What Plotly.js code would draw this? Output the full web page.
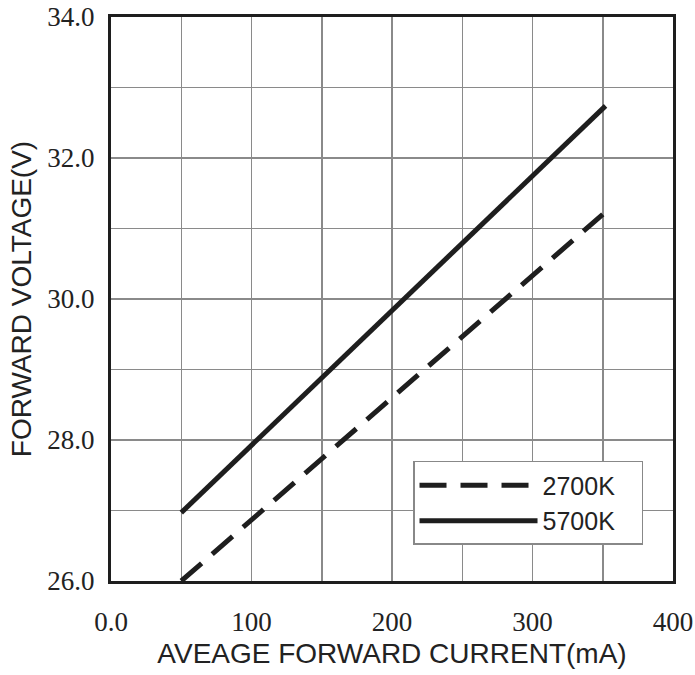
<!DOCTYPE html>
<html><head><meta charset="utf-8">
<script src="https://cdn.plot.ly/plotly-3.0.1.min.js"></script>
<style>html,body{margin:0;padding:0;background:#fff;}#chart{width:695px;height:675px;}</style>
</head><body><div id="chart"></div>
<script>
const seriesNames = ["2700K", "5700K"];
const current2700 = [50, 350];
const voltage2700 = [26.0, 31.2];
const current5700 = [50, 352];
const voltage5700 = [26.97, 32.74];
const xTickVals = [0, 50, 100, 150, 200, 250, 300, 350, 400];
const xTickText = ["0.0", "", "100", "", "200", "", "300", "", "400"];
const yTickVals = [26, 27, 28, 29, 30, 31, 32, 33, 34];
const yTickText = ["26.0", "", "28.0", "", "30.0", "", "32.0", "", "34.0"];

const lineColor = "#1e1e1e";
const serif = "'Liberation Serif', 'Times New Roman', serif";
const sans = "'Liberation Sans', Arial, sans-serif";
const pad = "\u00a0\u00a0\u00a0";
const traces = [
  {x: current2700, y: voltage2700, name: seriesNames[0] + pad, mode: "lines",
   line: {color: lineColor, width: 5, dash: "27px,14px"}},
  {x: current5700, y: voltage5700, name: seriesNames[1] + pad, mode: "lines",
   line: {color: lineColor, width: 5}}
];
const layout = {
  width: 695, height: 675,
  margin: {l: 111, r: 22, t: 17, b: 94},
  paper_bgcolor: "#fff", plot_bgcolor: "#fff",
  showlegend: true,
  legend: {x: 0.5374, y: 0.2128, xanchor: "left", yanchor: "top",
    bgcolor: "#fff", bordercolor: "#888", borderwidth: 1.5,
    font: {family: sans, size: 25, color: "#222"},
    itemwidth: 118, tracegroupgap: 0},
  xaxis: {range: [0, 400], tickvals: xTickVals, ticktext: xTickText,
    showgrid: true, gridcolor: "#8a8a8a", gridwidth: 1.5,
    showline: true, linecolor: "#1e1e1e", linewidth: 3, mirror: true,
    ticks: "", ticklabelstandoff: 15, zeroline: false,
    tickfont: {family: serif, size: 27, color: "#222"},
    title: {text: "AVEAGE FORWARD CURRENT(mA)", standoff: 7,
      font: {family: sans, size: 28, color: "#222"}}},
  yaxis: {range: [26, 34], tickvals: yTickVals, ticktext: yTickText,
    showgrid: true, gridcolor: "#8a8a8a", gridwidth: 1.5,
    showline: true, linecolor: "#1e1e1e", linewidth: 3, mirror: true,
    ticks: "", ticklabelstandoff: 8, zeroline: false,
    tickfont: {family: serif, size: 27, color: "#222"},
    title: {text: "FORWARD VOLTAGE(V)", standoff: 8,
      font: {family: sans, size: 28, color: "#222"}}}
};
Plotly.newPlot("chart", traces, layout, {staticPlot: true, displayModeBar: false});
</script></body></html>
